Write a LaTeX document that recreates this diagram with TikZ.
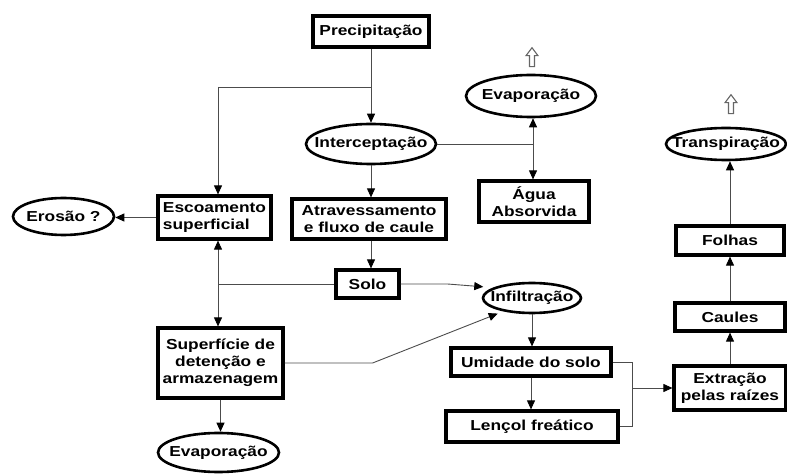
\documentclass[tikz,border=0pt]{standalone}
\usepackage{fontspec}
\setmainfont{Liberation Sans}[FakeStretch=1.2]
\usetikzlibrary{shapes.geometric,arrows.meta,calc}
\begin{document}
\begin{tikzpicture}[x=1bp,y=-1bp,
  font=\fontsize{14.5}{17}\selectfont\bfseries,
  bx/.style={draw, line width=3.2bp, rectangle, inner sep=0pt, align=center},
  el/.style={draw, ellipse, line width=2.6bp, inner sep=0pt},
  con/.style={draw=black!70, line width=0.9bp},
  arr/.style={con, -{Triangle[length=9bp,width=8bp,color=black]}},
  darr/.style={con, {Triangle[length=9bp,width=8bp,color=black]}-{Triangle[length=9bp,width=8bp,color=black]}},
  hol/.style={draw=black!60, line width=1.1bp, fill=white}
]
\useasboundingbox (0,0) rectangle (787,474);

\node[bx, minimum width=116bp, minimum height=31bp] (prec) at (371,31.5) {Precipitação};
\node[el, minimum width=130bp, minimum height=40bp] (inter) at (371,144) {\makebox[0pt]{Interceptação}};
\node[el, minimum width=130bp, minimum height=42bp] (evap1) at (531,96) {\makebox[0pt]{Evaporação}};
\node[bx, minimum width=110bp, minimum height=41bp] (agua) at (534,201.5) {Água\\Absorvida};
\node[el, minimum width=120bp, minimum height=32bp] (transp) at (726,144) {\makebox[0pt]{Transpiração}};
\node[bx, minimum width=113bp, minimum height=43bp, align=left] (escoa) at (214.5,217.5) {Escoamento\\superficial};
\node[el, minimum width=101bp, minimum height=37bp] (erosao) at (63.5,216.5) {\makebox[0pt]{Erosão ?}};
\node[bx, minimum width=154bp, minimum height=40bp] (atrav) at (369,219) {Atravessamento\\e fluxo de caule};
\node[bx, minimum width=63bp, minimum height=28bp] (solo) at (367.5,284) {Solo};
\node[el, minimum width=98bp, minimum height=30bp] (infil) at (532,298) {\makebox[0pt]{Infiltração}};
\node[bx, minimum width=125bp, minimum height=70bp] (sup) at (220.5,363) {Superfície de\\detenção e\\armazenagem};
\node[el, minimum width=121bp, minimum height=39bp] (evap2) at (218.5,452.5) {\makebox[0pt]{Evaporação}};
\node[bx, minimum width=160bp, minimum height=28bp] (umid) at (531,362) {Umidade do solo};
\node[bx, minimum width=172bp, minimum height=31bp] (lencol) at (532,426.5) {Lençol freático};
\node[bx, minimum width=112bp, minimum height=44bp] (extr) at (730,388) {Extração\\pelas raízes};
\node[bx, minimum width=110bp, minimum height=28bp] (caules) at (730,317) {Caules};
\node[bx, minimum width=108bp, minimum height=29bp] (folhas) at (730,240.5) {Folhas};

% connectors
\coordinate (b1) at (371,87);
\coordinate (b2) at (218,87);
\coordinate (j1) at (533,144);
\coordinate (j2) at (218,283);
\coordinate (j3) at (632,388);

\draw[arr] (prec.south) -- (prec.south |- inter.north);
\draw[con] (b1) -- (b2);
\draw[arr] (b2) -- (b2 |- escoa.north);
\draw[con] (inter.east) -- (j1);
\draw[darr] (evap1.south -| j1) -- (agua.north -| j1);
\draw[arr] (inter.south) -- (inter.south |- atrav.north);
\draw[arr] (inter.south |- atrav.south) -- (inter.south |- solo.north);
\draw[arr] (escoa.west) -- (escoa.west -| erosao.east);
\draw[darr] (escoa.south -| j2) -- (sup.north -| j2);
\draw[con] (solo.west) -- (solo.west -| j2);
\draw[arr, shorten >=10bp] (solo.east) -- ($(solo.east)+(47,0)$) -- (infil.165);
\draw[arr, shorten >=6bp] (sup.east) -- ($(sup.east)+(88,0)$) -- (infil.205);
\draw[arr] (infil.south) -- (infil.south |- umid.north);
\draw[arr] (umid.south) -- (umid.south |- lencol.north);
\draw[arr] (sup.south) -- (sup.south |- evap2.north);
\draw[con] (umid.east) -- (umid.east -| j3) -- (lencol.east -| j3) -- (lencol.east);
\draw[arr] (j3) -- (extr.west);
\draw[arr] (extr.north) -- (caules.south);
\draw[arr] (caules.north) -- (folhas.south);
\draw[arr] (folhas.north) -- (folhas.north |- transp.south);

% hollow up arrows
\draw[hol] ($(evap1.north)+(1,-7)$) ++(-2.5,0) -- ++(0,-11) -- ++(-3.5,0) -- ++(6,-8) -- ++(6,8) -- ++(-3.5,0) -- ++(0,11) -- cycle;
\draw[hol] ($(transp.north)+(5,-13)$) ++(-2.5,0) -- ++(0,-11) -- ++(-3.5,0) -- ++(6,-8) -- ++(6,8) -- ++(-3.5,0) -- ++(0,11) -- cycle;
\end{tikzpicture}
\end{document}
